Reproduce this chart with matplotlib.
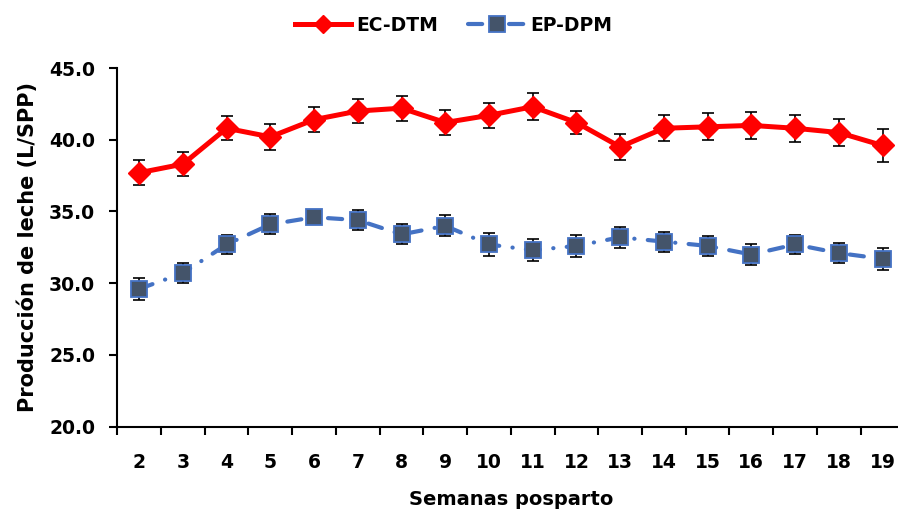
import matplotlib
matplotlib.use("Agg")
import matplotlib.pyplot as plt
from matplotlib.lines import Line2D
import numpy as np

# Weekly milk yield (L/cow/day) by postpartum week
semanas = [2, 3, 4, 5, 6, 7, 8, 9, 10, 11, 12, 13, 14, 15, 16, 17, 18, 19]
ec_dtm = [37.7, 38.3, 40.8, 40.2, 41.4, 42.0, 42.2, 41.2, 41.7, 42.3, 41.2, 39.5,
          40.8, 40.9, 41.0, 40.8, 40.5, 39.6]
ec_dtm_err = [0.88, 0.82, 0.83, 0.92, 0.88, 0.84, 0.88, 0.87, 0.85, 0.93, 0.79, 0.88,
              0.89, 0.93, 0.95, 0.93, 0.95, 1.13]
ep_dpm = [29.6, 30.7, 32.7, 34.1, 34.6, 34.4, 33.4, 34.0, 32.7, 32.3, 32.6, 33.2,
          32.9, 32.6, 32.0, 32.7, 32.1, 31.7]
ep_dpm_err = [0.78, 0.68, 0.69, 0.69, 0.50, 0.70, 0.70, 0.72, 0.81, 0.77, 0.77, 0.72,
              0.70, 0.70, 0.70, 0.67, 0.68, 0.76]
y_ticks = [20.0, 25.0, 30.0, 35.0, 40.0, 45.0]

FONT = "DejaVu Sans"
FS = 13.5
RED = "#FF0000"
BLUE = "#4472C4"
SLATE = "#44546A"
DASH = (0, (3.4, 3.2, 0.05, 3.2))

fig = plt.figure(figsize=(8.98, 5.16), dpi=100)
ax = fig.add_axes([0.1306, 0.1731, 0.8765, 0.6951])

x = np.arange(len(semanas))

# EC-DTM series
ax.errorbar(x, ec_dtm, yerr=ec_dtm_err, fmt="none", ecolor="black",
            elinewidth=1.2, capsize=4, capthick=1.2, zorder=2)
ax.plot(x, ec_dtm, color=RED, lw=3.6, marker="D", markersize=11,
        markerfacecolor=RED, markeredgecolor=RED, solid_capstyle="round",
        zorder=3)

# EP-DPM series
ax.errorbar(x, ep_dpm, yerr=ep_dpm_err, fmt="none", ecolor="black",
            elinewidth=1.2, capsize=4, capthick=1.2, zorder=2)
ax.plot(x, ep_dpm, color=BLUE, lw=3.0, linestyle=DASH,
        dash_capstyle="round", zorder=2.5)
ax.plot(x, ep_dpm, linestyle="none", marker="s", markersize=11.5,
        markerfacecolor=SLATE, markeredgecolor=BLUE, markeredgewidth=1.3,
        zorder=3)

# Axes styling
ax.set_xlim(-0.5, len(semanas) - 0.5)
ax.set_ylim(20, 45)
ax.set_yticks(y_ticks)
ax.set_yticklabels([f"{v:.1f}" for v in y_ticks])
ax.set_xticks(x)
ax.set_xticklabels([str(s) for s in semanas])
ax.set_xticks(np.arange(-0.5, len(semanas), 1.0), minor=True)

for side in ("top", "right"):
    ax.spines[side].set_visible(False)
for side in ("left", "bottom"):
    ax.spines[side].set_linewidth(1.5)
    ax.spines[side].set_color("black")

ax.tick_params(axis="x", which="major", length=0, pad=19)
ax.tick_params(axis="x", which="minor", length=6, width=1.5, direction="out")
ax.tick_params(axis="y", which="major", length=6, width=1.5, direction="out",
               pad=10)

for lab in ax.get_xticklabels() + ax.get_yticklabels():
    lab.set_fontfamily(FONT)
    lab.set_fontweight("bold")
    lab.set_fontsize(FS)

ax.set_xlabel("Semanas posparto", fontfamily=FONT, fontweight="bold",
              fontsize=14, labelpad=13)
ax.set_ylabel("Producción de leche (L/SPP)", fontfamily=FONT,
              fontweight="bold", fontsize=15, labelpad=8)

# Legend at the top
handles = [
    Line2D([], [], color=RED, lw=3.6, marker="D", markersize=9,
           markerfacecolor=RED, markeredgecolor=RED),
    Line2D([], [], color=BLUE, lw=3.0, linestyle=DASH,
           dash_capstyle="round", marker="s", markersize=11,
           markerfacecolor=SLATE, markeredgecolor=BLUE, markeredgewidth=1.3),
]
fig.legend(handles, ["EC-DTM", "EP-DPM"], loc="center",
           bbox_to_anchor=(0.505, 0.951), ncol=2, frameon=False,
           handlelength=3.0, handletextpad=0.3, columnspacing=1.6,
           prop={"family": FONT, "weight": "bold", "size": FS})

fig.savefig("out.png", dpi=100)
